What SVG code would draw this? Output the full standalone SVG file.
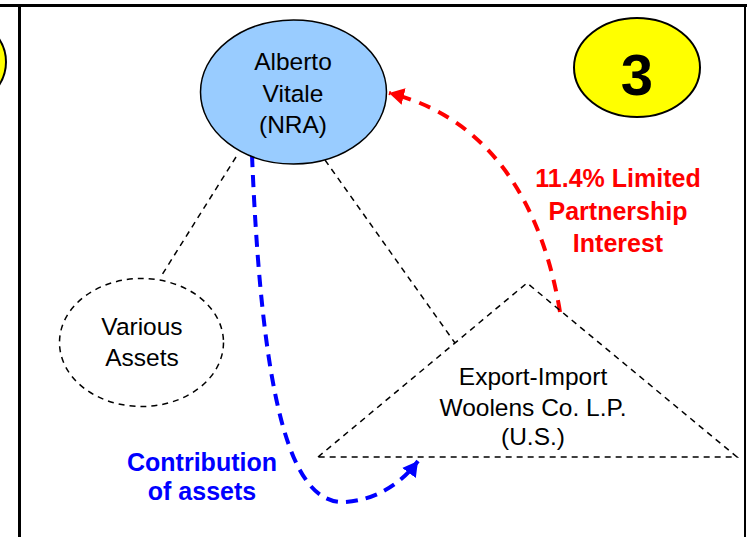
<svg xmlns="http://www.w3.org/2000/svg" width="747" height="537" viewBox="0 0 747 537">
<defs>
<style>
.t{font-family:"Liberation Sans",Arial,sans-serif;text-anchor:middle}
.n{font-size:24.5px;fill:#000}
.b{font-size:25px;font-weight:bold}
.dash{fill:none;stroke:#000;stroke-width:1.5;stroke-dasharray:6 5}
.yel{fill:#ffff00;stroke:#000;stroke-width:2}
</style>
<marker id="ar" markerUnits="userSpaceOnUse" markerWidth="16" markerHeight="18" refX="15" refY="8.5" orient="auto"><path d="M0,0 L15,8.5 L0,17 z" fill="#ff0000"/></marker>
<marker id="ab" markerUnits="userSpaceOnUse" markerWidth="16" markerHeight="18" refX="15" refY="8.5" orient="auto"><path d="M0,0 L15,8.5 L0,17 z" fill="#0000ff"/></marker>
</defs>
<rect width="747" height="537" fill="#fff"/>
<g id="frame">
<line x1="0" y1="5.5" x2="747" y2="5.5" stroke="#000" stroke-width="3"/>
<line x1="19.5" y1="5" x2="19.5" y2="537" stroke="#000" stroke-width="3"/>
<line x1="745" y1="5" x2="745" y2="537" stroke="#000" stroke-width="2"/>
</g>
<g id="badge-prev"><ellipse class="yel" cx="-57" cy="62" rx="63" ry="50"/></g>
<g id="badge3">
<ellipse class="yel" cx="637" cy="67.5" rx="63" ry="49.5"/>
<text class="t" x="637" y="95" font-size="58" font-weight="bold">3</text>
</g>
<g id="connectors">
<line class="dash" x1="236" y1="157" x2="160" y2="278"/>
<line class="dash" x1="325" y1="160" x2="455" y2="343"/>
<path d="M560,312 C545,220 500,120 389,93" fill="none" stroke="#ff0000" stroke-width="4" stroke-dasharray="12 9" marker-end="url(#ar)"/>
<path d="M252,155 C262,400 290,505 345,502 C375,500 400,485 418,461" fill="none" stroke="#0000ff" stroke-width="4" stroke-dasharray="12 8" marker-end="url(#ab)"/>
</g>
<g id="alberto">
<ellipse cx="293.5" cy="92" rx="93" ry="72" fill="#99ccff" stroke="#000" stroke-width="1.5"/>
<text class="t n" x="293" y="70">Alberto</text>
<text class="t n" x="293" y="102">Vitale</text>
<text class="t n" x="293" y="133">(NRA)</text>
</g>
<g id="various">
<ellipse class="dash" cx="141.5" cy="342.5" rx="82" ry="64"/>
<text class="t n" x="142" y="335">Various</text>
<text class="t n" x="142" y="366">Assets</text>
</g>
<g id="woolens">
<path class="dash" d="M318,457 L527,283 L737,457 Z"/>
<text class="t n" x="533" y="385">Export-Import</text>
<text class="t n" x="533" y="416">Woolens Co. L.P.</text>
<text class="t n" x="533" y="445">(U.S.)</text>
</g>
<g id="label-interest" fill="#ff0000">
<text class="t b" x="618" y="187">11.4% Limited</text>
<text class="t b" x="618" y="220">Partnership</text>
<text class="t b" x="618" y="252">Interest</text>
</g>
<g id="label-contribution" fill="#0000ff">
<text class="t b" x="202" y="471">Contribution</text>
<text class="t b" x="202" y="500">of assets</text>
</g>
</svg>
